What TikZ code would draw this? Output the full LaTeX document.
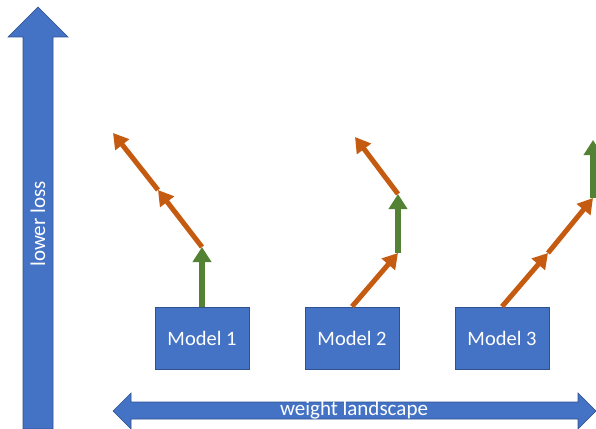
\documentclass[tikz,border=0pt]{standalone}
\usepackage{fontspec}
\setmainfont{Carlito}
\usetikzlibrary{arrows.meta,positioning}

\definecolor{boxblue}{HTML}{4472C4}
\definecolor{edgeblue}{HTML}{2F528F}
\definecolor{steporange}{HTML}{C55A11}
\definecolor{stepgreen}{HTML}{548235}

\begin{document}
\begin{tikzpicture}[x=1pt,y=-1pt,
    model/.style={rectangle,draw=edgeblue,fill=boxblue,line width=0.8pt,
      minimum width=94pt,minimum height=62pt,text=white,
      font=\fontsize{20.5}{24}\selectfont},
    axislabel/.style={text=white,font=\fontsize{21}{25}\selectfont},
    axisarrow/.style={fill=boxblue,draw=edgeblue,line width=0.6pt},
    orangestep/.style={draw=steporange,line width=5pt,
      -{Triangle[width=17pt,length=15pt]}},
    greenstep/.style={draw=stepgreen,line width=6pt,
      -{Triangle[width=18pt,length=15pt]}}]
  \useasboundingbox (0,0) rectangle (596,428);

  % axes
  \path[axisarrow] (23,429) -- (23,37) -- (8,37) -- (38,7) -- (68,37)
    -- (53,37) -- (53,429) -- cycle;
  \node[axislabel,rotate=90] (loss) at (38,224) {lower loss};
  \path[axisarrow] (113,411) -- (131,393) -- (131,402) -- (578,402)
    -- (578,393) -- (596,411) -- (578,429) -- (578,419) -- (131,419)
    -- (131,429) -- cycle;
  \node[axislabel] (landscape) at (354,410) {weight landscape};

  % models
  \node[model] (m1) at (202,338) {Model 1};
  \node[model] (m2) at (352,338) {Model 2};
  \node[model] (m3) at (502,338) {Model 3};

  % update steps
  \coordinate (p11) at (202,247);
  \coordinate (p12) at (158,190);
  \coordinate (p13) at (113,133);
  \coordinate (p21) at (398,253);
  \coordinate (p22) at (398,194);
  \coordinate (p23) at (355,137);
  \coordinate (p31) at (548,253);
  \coordinate (p32) at (593,198);
  \coordinate (p33) at (593,140);

  \draw[greenstep] (m1.north) -- (p11);
  \draw[orangestep] (p11) -- (p12);
  \draw[orangestep] (p12) -- (p13);

  \draw[orangestep] (m2.north) -- (p21);
  \draw[greenstep] (p21) -- (p22);
  \draw[orangestep] (p22) -- (p23);

  \draw[orangestep] (m3.north) -- (p31);
  \draw[orangestep] (p31) -- (p32);
  \draw[greenstep] (p32) -- (p33);
\end{tikzpicture}
\end{document}
